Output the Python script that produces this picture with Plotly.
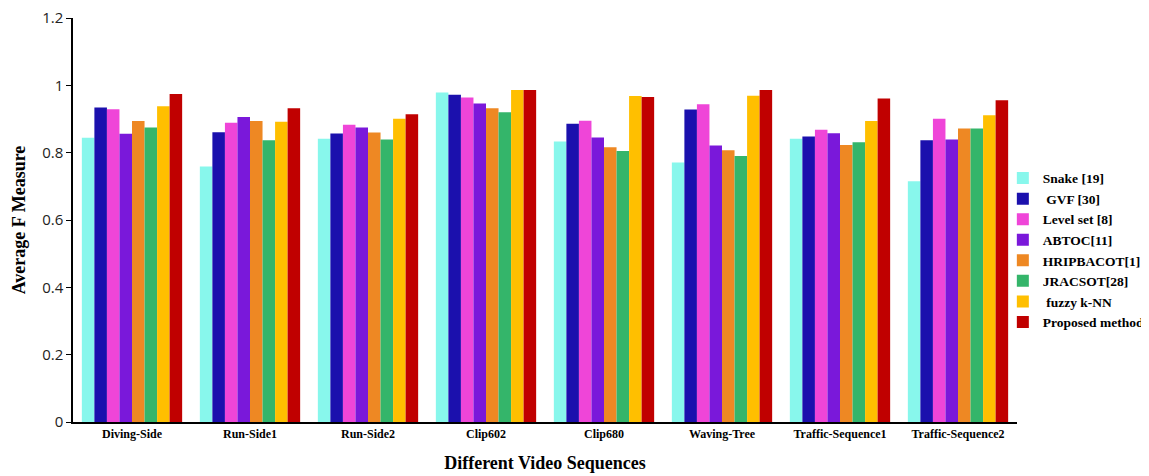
import plotly.graph_objects as go

categories = ["Diving-Side", "Run-Side1", "Run-Side2", "Clip602", "Clip680",
              "Waving-Tree", "Traffic-Sequence1", "Traffic-Sequence2"]

snake      = [0.844, 0.759, 0.841, 0.979, 0.833, 0.771, 0.841, 0.715]
gvf        = [0.934, 0.861, 0.857, 0.972, 0.886, 0.928, 0.848, 0.837]
level_set  = [0.929, 0.889, 0.883, 0.964, 0.895, 0.944, 0.868, 0.901]
abtoc      = [0.856, 0.906, 0.875, 0.946, 0.845, 0.821, 0.858, 0.839]
hripbacot  = [0.894, 0.894, 0.860, 0.932, 0.816, 0.807, 0.823, 0.872]
jracsot    = [0.875, 0.837, 0.839, 0.920, 0.805, 0.790, 0.831, 0.872]
fuzzy_knn  = [0.938, 0.892, 0.901, 0.986, 0.968, 0.969, 0.894, 0.911]
proposed   = [0.974, 0.932, 0.914, 0.986, 0.965, 0.986, 0.961, 0.956]

series_names = ["Snake [19]", " GVF [30]", "Level set [8]", "ABTOC[11]",
                "HRIPBACOT[1]", "JRACSOT[28]", " fuzzy k-NN", "Proposed method"]
series_values = [snake, gvf, level_set, abtoc, hripbacot, jracsot, fuzzy_knn, proposed]
colors = ["#88F7EC", "#1B10AD", "#EF45D8", "#7A18DA", "#EE8823", "#34B56A", "#FFBF00", "#C00000"]

y_ticks = [0, 0.2, 0.4, 0.6, 0.8, 1.0, 1.2]
y_tick_text = ["0", "0.2", "0.4", "0.6", "0.8", "1", "1.2"]

serif = "Liberation Serif, Times New Roman, serif"

fig = go.Figure()
for name, vals, c in zip(series_names, series_values, colors):
    fig.add_trace(go.Bar(x=categories, y=vals, name=name, marker_color=c,
                         marker_line_width=0))

fig.update_layout(
    width=1141, height=468,
    margin=dict(l=65, r=132, t=10, b=54, autoexpand=False),
    paper_bgcolor="white", plot_bgcolor="white",
    barmode="group", bargap=0.15, bargroupgap=0,
    legend=dict(x=0.985, y=0.425, xanchor="left", yanchor="middle",
                font=dict(family=serif, size=13.5, color="black", weight="bold"),
                tracegroupgap=0, itemwidth=30, bgcolor="rgba(0,0,0,0)"),
    xaxis=dict(showline=True, linecolor="black", linewidth=2, ticks="",
               automargin=False,
               tickfont=dict(family=serif, size=12, color="black", weight="bold"),
               title=dict(text="Different Video Sequences", standoff=16,
                          font=dict(family=serif, size=18, color="black", weight="bold"))),
    yaxis=dict(range=[0, 1.2], tickvals=y_ticks, ticktext=y_tick_text,
               showline=True, linecolor="black", linewidth=1.5, automargin=False,
               ticklabeloverflow="allow",
               ticks="outside", ticklen=5, tickcolor="black", showgrid=False, zeroline=False,
               tickfont=dict(family="Open Sans, DejaVu Sans, sans-serif", size=15, color="#222"),
               title=dict(text="Average F Measure", standoff=12,
                          font=dict(family=serif, size=18, color="black", weight="bold"))),
)

fig.write_html("out.html")
